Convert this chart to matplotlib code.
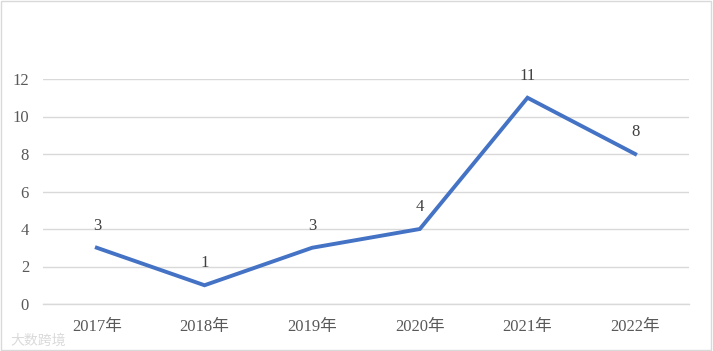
import matplotlib.pyplot as plt
from matplotlib.patches import Rectangle

plt.rcParams['font.family'] = ['Liberation Serif', 'Noto Sans CJK SC', 'DejaVu Sans']

anios = ['2017年', '2018年', '2019年', '2020年', '2021年', '2022年']
valores = [3, 1, 3, 4, 11, 8]

fig = plt.figure(figsize=(7.13, 3.51), dpi=100)
ax = fig.add_axes([43/713, 47/351, (689-43)/713, (304-79)/351])

x = list(range(len(anios)))
ax.plot(x, valores, color='#4472C4', linewidth=2.8, solid_joinstyle='miter')
for xi, v in zip(x, valores):
    ax.annotate(str(v), (xi, v), xytext=(0, 10), textcoords='offset points',
                ha='center', va='bottom', fontsize=12, color='#404040')

ax.set_xlim(-0.5, len(anios) - 0.5)
ax.set_ylim(0, 12)
ax.set_yticks(range(0, 13, 2))
ax.set_xticks(x)
ax.set_xticklabels(anios)
ax.grid(axis='y', color='#D9D9D9', linewidth=1)
ax.axhline(0, color='#D9D9D9', linewidth=1, clip_on=False, zorder=0)
ax.set_axisbelow(True)
for s in ax.spines.values():
    s.set_visible(False)
ax.tick_params(length=0, labelsize=12, labelcolor='#595959')
ax.tick_params(axis='y', pad=10)
ax.tick_params(axis='x', pad=11)

# borde del gráfico
fig.patches.append(Rectangle((0.002, 0.003), 0.995, 0.993, transform=fig.transFigure,
                             fill=False, edgecolor='#D9D9D9', linewidth=1))
# marca de agua
fig.text(10/713, 10/351, '大数跨境', fontsize=10, color='#DADADA',
         family=['Noto Sans CJK SC'], ha='left', va='center')

fig.savefig('out.png', dpi=100)
